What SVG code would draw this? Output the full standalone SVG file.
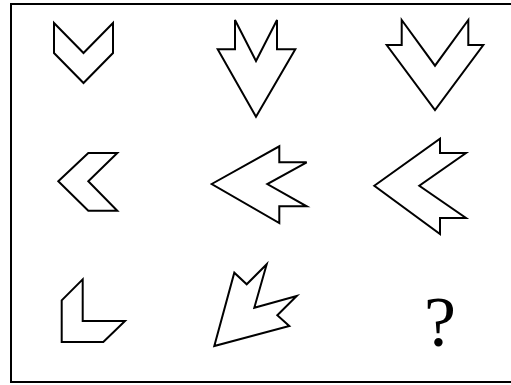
<svg xmlns="http://www.w3.org/2000/svg" width="511" height="385" viewBox="0 0 511 385">
<style>
.s{fill:#fff;stroke:#000;stroke-width:2;stroke-linejoin:miter}
.t{font-family:"Liberation Serif",serif;font-size:72px;fill:#000}
</style>
<rect x="0" y="0" width="511" height="385" fill="#fff"/>
<rect x="11" y="4" width="520" height="378" fill="none" stroke="#000" stroke-width="2"/>
<g id="s1"><polygon class="s" points="54,23 83.5,53 113,23 113,53 83.5,83 54,53"/></g>
<g id="s2"><polygon class="s" points="235,20 256,61 277,20 277,49.3 295.3,49.3 256,116.7 217.7,49.3 235,49.3"/></g>
<g id="s3"><polygon class="s" points="401.7,20 435,65.7 468.3,20 468.3,45 483.3,45 435,110 386.7,45 401.7,45"/></g>
<g id="s4"><polygon class="s" points="58.3,181.3 88.3,153 117.3,153 88.3,181.3 117.3,210.7 88.3,210.7"/></g>
<g id="s5"><polygon class="s" points="211.7,184 279.3,146.3 279.3,162.3 306.7,162.3 267.3,184 306.7,206.3 279.3,206.3 279.3,223"/></g>
<g id="s6"><polygon class="s" points="374.3,185.7 440,138.7 440,153 466,153 419.3,185.7 466,218 440,218 440,234"/></g>
<g id="s7"><polygon class="s" points="82.7,279.3 82.7,321 125,321 103.3,342 61.7,342 61.7,300.3"/></g>
<g id="s8"><polygon class="s" points="214.3,346 234.3,272.7 246.7,284.3 266.7,264.3 254.3,307.7 296.7,296 277.3,315.3 289.3,326"/></g>
<g id="q"><text class="t" x="440" y="346" text-anchor="middle">?</text></g>
<g id="connectors"/>
</svg>
